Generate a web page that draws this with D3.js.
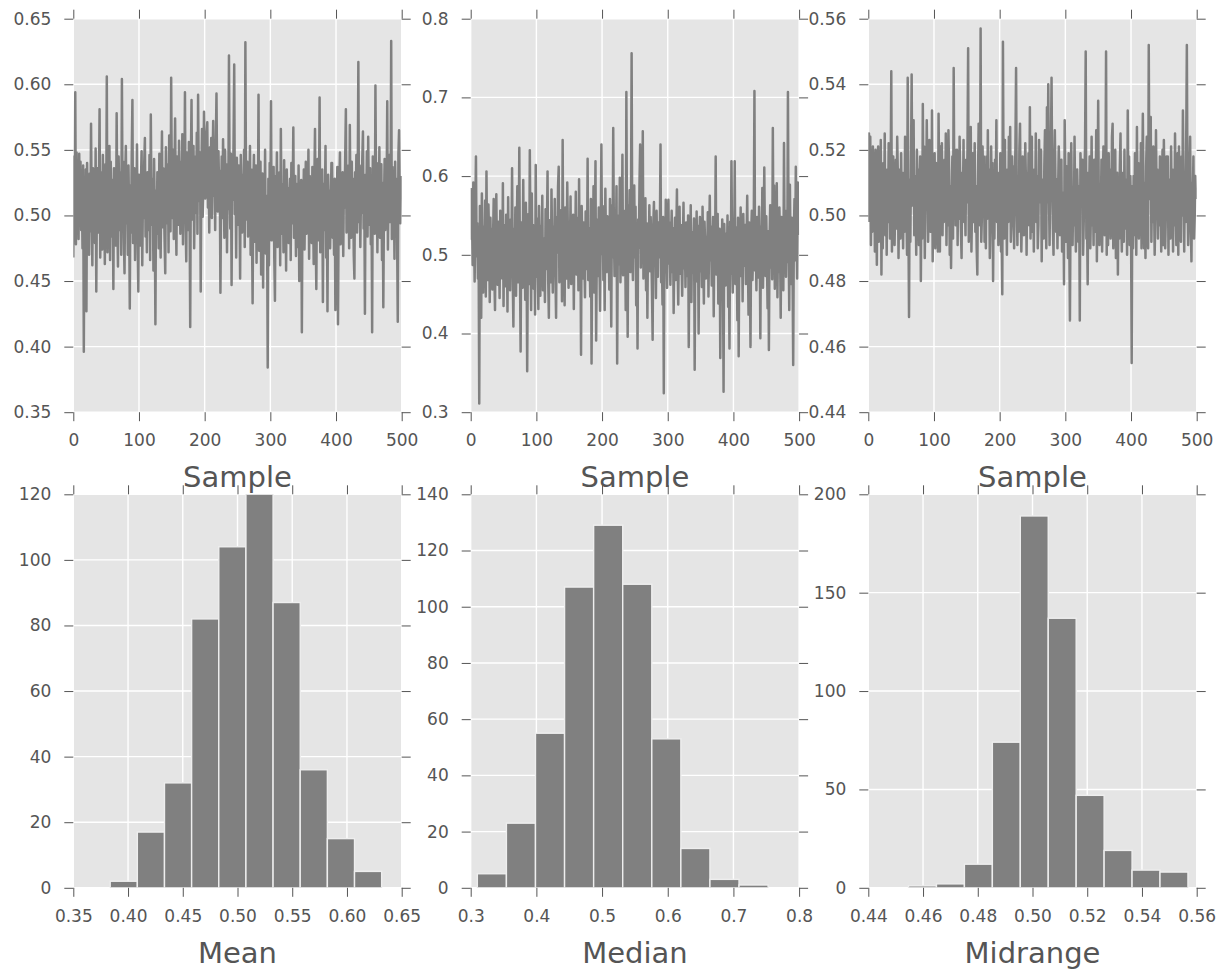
<!DOCTYPE html>
<html><head><meta charset="utf-8">
<script src="https://cdn.jsdelivr.net/npm/d3@7"></script>
<style>body{margin:0;background:#fff}</style>
</head><body>
<svg id="chart" width="1226" height="972"></svg>
<script>
// ---- data ----
const meanSamples=[
.468,.545,.510,.594,.478,.548,.496,.530,.482,.547,.503,.541,.489,.520,.475,.538,.396,.512,.490,.535,.427,.540,.498,.521,.470,
.532,.488,.570,.505,.462,.536,.494,.528,.479,.551,.442,.515,.536,.487,.519,.581,.468,.508,.533,.474,.546,.497,.522,.463,.539,
.490,.606,.472,.529,.505,.553,.466,.541,.512,.484,.527,.444,.536,.498,.519,.477,.578,.502,.461,.545,.516,.489,.533,.470,.604,
.508,.541,.483,.456,.527,.553,.494,.515,.470,.538,.501,.429,.523,.487,.548,.588,.479,.512,.536,.466,.520,.497,.554,.481,.442,
.531,.504,.477,.526,.549,.462,.515,.498,.540,.559,.484,.520,.472,.533,.507,.489,.546,.466,.577,.511,.493,.528,.458,.543,.502,
.417,.519,.486,.533,.528,.475,.547,.500,.468,.522,.564,.491,.536,.509,.481,.456,.552,.517,.494,.539,.472,.561,.507,.488,.605,
.523,.498,.550,.482,.531,.574,.509,.470,.545,.519,.493,.557,.528,.486,.541,.504,.562,.478,.535,.513,.594,.497,.465,.548,.522,
.489,.556,.508,.415,.540,.588,.497,.531,.553,.475,.519,.545,.502,.563,.486,.592,.527,.511,.548,.442,.534,.566,.499,.520,.579,
.548,.513,.530,.561,.571,.506,.544,.487,.552,.525,.559,.498,.537,.572,.515,.541,.489,.556,.593,.527,.503,.549,.520,.534,.441,
.512,.545,.498,.558,.526,.483,.550,.517,.539,.472,.531,.505,.622,.524,.490,.547,.447,.535,.512,.557,.615,.501,.529,.468,.544,
.518,.493,.538,.509,.452,.546,.522,.487,.531,.503,.550,.476,.632,.515,.497,.541,.484,.526,.508,.553,.470,.535,.492,.433,.520,
.546,.480,.511,.538,.464,.527,.499,.592,.473,.518,.541,.455,.509,.532,.445,.524,.488,.550,.471,.515,.497,.384,.528,.462,.540,
.506,.587,.481,.522,.496,.537,.468,.435,.530,.509,.548,.476,.519,.495,.533,.462,.566,.503,.486,.524,.472,.542,.490,.515,.458,
.535,.498,.521,.479,.512,.528,.466,.540,.494,.517,.567,.483,.509,.530,.469,.524,.501,.476,.538,.450,.514,.489,.527,.411,.519,
.493,.535,.474,.512,.541,.486,.522,.505,.550,.467,.530,.495,.518,.479,.537,.508,.463,.526,.566,.488,.444,.520,.543,.481,.510,
.590,.472,.517,.498,.535,.434,.524,.489,.509,.553,.468,.513,.427,.531,.496,.519,.475,.507,.540,.540,.483,.512,.470,.528,.428,
.516,.494,.537,.417,.502,.525,.548,.478,.514,.491,.533,.469,.527,.506,.545,.581,.487,.522,.499,.538,.475,.569,.510,.483,.541,
.497,.528,.470,.452,.533,.509,.546,.487,.521,.617,.495,.538,.476,.515,.502,.543,.564,.490,.522,.425,.531,.507,.549,.484,.560,
.512,.493,.536,.478,.520,.411,.545,.501,.527,.486,.599,.518,.540,.472,.531,.497,.552,.483,.514,.539,.466,.525,.430,.508,.543,
.489,.532,.515,.587,.474,.521,.546,.495,.510,.633,.482,.537,.503,.524,.467,.541,.498,.528,.485,.419,.547,.565,.511,.494,.530];

const medianSamples=[
.585,.520,.548,.487,.592,.531,.466,.553,.625,.498,.540,.470,.515,.311,.562,.491,.420,.578,.509,.452,.536,.481,.569,.447,.606,
.503,.468,.564,.521,.440,.547,.492,.533,.456,.518,.571,.474,.430,.529,.577,.496,.462,.542,.505,.445,.556,.487,.523,.470,.591,
.435,.538,.497,.460,.551,.516,.428,.573,.484,.526,.455,.545,.502,.610,.471,.409,.533,.490,.560,.448,.519,.587,.465,.507,.636,
.479,.377,.541,.502,.458,.595,.486,.527,.443,.566,.510,.352,.498,.552,.463,.633,.520,.430,.578,.485,.538,.457,.509,.424,.614,
.472,.546,.495,.431,.562,.513,.448,.537,.489,.575,.455,.521,.503,.440,.558,.482,.527,.606,.468,.420,.544,.497,.465,.583,.510,
.452,.536,.489,.571,.476,.420,.548,.503,.587,.612,.465,.529,.494,.557,.441,.646,.483,.518,.436,.560,.507,.470,.592,.525,.458,
.539,.495,.574,.463,.520,.486,.551,.431,.533,.502,.580,.475,.514,.547,.455,.596,.489,.526,.373,.562,.508,.470,.541,.498,.446,
.555,.517,.482,.622,.468,.534,.499,.447,.571,.362,.513,.486,.587,.452,.527,.619,.391,.506,.545,.473,.560,.494,.429,.536,.640,
.501,.562,.468,.525,.430,.584,.512,.478,.549,.495,.538,.456,.571,.519,.409,.563,.497,.661,.530,.473,.548,.506,.587,.362,.521,
.550,.488,.598,.465,.535,.512,.627,.474,.556,.495,.541,.430,.707,.520,.396,.563,.503,.582,.478,.547,.756,.512,.468,.539,.588,
.497,.561,.436,.528,.381,.545,.509,.592,.640,.484,.551,.517,.657,.470,.533,.498,.572,.455,.540,.420,.526,.494,.563,.479,.548,
.507,.454,.392,.538,.567,.486,.520,.445,.556,.503,.472,.541,.497,.531,.640,.465,.512,.437,.548,.324,.529,.481,.570,.503,.458,
.525,.570,.489,.541,.462,.515,.556,.478,.534,.426,.502,.547,.468,.523,.583,.490,.437,.519,.561,.476,.538,.495,.448,.512,.566,
.483,.527,.459,.541,.502,.473,.550,.383,.518,.494,.563,.440,.529,.477,.508,.546,.354,.521,.490,.555,.466,.537,.400,.512,.548,
.479,.528,.459,.561,.497,.438,.542,.512,.470,.523,.486,.554,.447,.519,.575,.493,.536,.461,.506,.548,.422,.527,.490,.625,.475,
.514,.552,.438,.498,.533,.369,.518,.471,.545,.493,.326,.539,.505,.461,.527,.482,.550,.434,.509,.381,.542,.476,.619,.501,.452,
.528,.489,.619,.463,.535,.510,.417,.547,.371,.520,.494,.560,.473,.531,.441,.552,.506,.486,.538,.463,.517,.575,.497,.424,.541,
.489,.383,.527,.556,.468,.505,.540,.708,.480,.523,.455,.548,.502,.471,.561,.515,.394,.536,.492,.585,.458,.527,.611,.506,.473,
.549,.497,.432,.530,.379,.518,.563,.484,.540,.469,.661,.502,.588,.457,.526,.495,.591,.446,.534,.478,.560,.509,.420,.548,.491,
.527,.455,.642,.503,.538,.472,.556,.491,.707,.518,.430,.589,.502,.463,.547,.484,.360,.529,.571,.493,.612,.538,.470,.592,.525];

const midrangeSamples=[
.498,.525,.509,.524,.491,.517,.495,.521,.506,.519,.489,.520,.508,.485,.515,.521,.492,.511,.497,.523,.482,.513,.490,.516,.500,
.525,.494,.510,.488,.514,.498,.522,.519,.493,.511,.544,.489,.506,.518,.500,.491,.504,.517,.496,.524,.512,.487,.505,.514,.493,
.519,.499,.513,.490,.510,.495,.524,.516,.502,.488,.542,.500,.469,.511,.492,.515,.543,.503,.527,.529,.494,.512,.506,.488,.520,
.504,.514,.491,.508,.518,.480,.507,.493,.534,.505,.521,.487,.509,.503,.529,.511,.492,.506,.523,.501,.495,.497,.532,.486,.512,
.499,.519,.490,.516,.495,.508,.489,.531,.507,.489,.521,.500,.522,.494,.511,.498,.517,.504,.525,.491,.510,.497,.526,.514,.488,
.509,.484,.506,.518,.493,.545,.505,.520,.497,.508,.520,.491,.514,.499,.524,.510,.496,.487,.513,.502,.523,.498,.506,.494,.517,
.504,.520,.551,.492,.514,.506,.527,.489,.503,.519,.498,.507,.522,.495,.509,.490,.482,.511,.528,.508,.497,.557,.492,.500,.521,
.503,.518,.492,.512,.490,.518,.499,.526,.502,.514,.487,.497,.521,.504,.516,.480,.511,.493,.517,.506,.529,.498,.513,.491,.508,
.500,.519,.489,.496,.476,.553,.507,.493,.523,.499,.509,.488,.514,.498,.524,.506,.527,.492,.497,.518,.505,.515,.490,.508,.521,
.545,.506,.491,.512,.495,.520,.528,.504,.489,.500,.518,.514,.494,.507,.522,.510,.488,.513,.501,.519,.497,.533,.493,.512,.524,
.495,.510,.489,.514,.501,.525,.498,.512,.490,.497,.523,.504,.509,.520,.486,.511,.506,.493,.515,.526,.503,.490,.533,.504,.540,
.508,.491,.512,.519,.542,.510,.497,.488,.514,.526,.509,.495,.511,.490,.508,.521,.513,.494,.502,.517,.489,.507,.503,.479,.529,
.511,.492,.515,.506,.487,.519,.493,.468,.504,.522,.500,.491,.507,.497,.524,.503,.489,.501,.514,.505,.492,.509,.468,.519,.512,
.503,.517,.488,.498,.511,.521,.550,.493,.500,.479,.513,.504,.518,.490,.502,.524,.497,.506,.491,.517,.508,.495,.526,.486,.506,
.535,.502,.491,.507,.499,.517,.489,.509,.521,.512,.494,.507,.550,.488,.511,.491,.519,.502,.514,.493,.500,.524,.528,.490,.509,
.501,.520,.487,.498,.513,.482,.508,.493,.515,.525,.499,.489,.505,.513,.492,.520,.496,.507,.511,.488,.532,.500,.518,.491,.512,
.498,.455,.509,.490,.512,.494,.519,.503,.488,.527,.500,.516,.493,.514,.499,.522,.490,.511,.531,.506,.490,.510,.487,.515,.524,
.501,.490,.552,.505,.519,.530,.492,.509,.498,.521,.506,.488,.500,.526,.504,.514,.493,.509,.497,.518,.512,.489,.510,.520,.491,
.523,.506,.490,.500,.518,.504,.518,.488,.511,.507,.493,.521,.503,.514,.489,.509,.497,.525,.505,.491,.501,.519,.488,.521,.507,
.503,.492,.518,.500,.532,.510,.489,.513,.498,.521,.552,.506,.491,.502,.514,.524,.497,.486,.510,.503,.518,.493,.500,.512,.505];

const meanHistCounts=[2,17,32,82,104,120,87,36,15,5];
const medianHistCounts=[5,23,55,107,129,108,53,14,3,1];
const midrangeHistCounts=[1,2,12,74,189,137,47,19,9,8];
const meanHistRange=[0.3837,0.6317];
const medianHistRange=[0.3101,0.7528];
const midrangeHistRange=[0.4547,0.5568];

const sampleTicks=[0,100,200,300,400,500];
const meanTicks=[0.35,0.40,0.45,0.50,0.55,0.60,0.65];
const medianTicks=[0.3,0.4,0.5,0.6,0.7,0.8];
const midrangeTicks=[0.44,0.46,0.48,0.50,0.52,0.54,0.56];
const meanCountTicks=[0,20,40,60,80,100,120];
const medianCountTicks=[0,20,40,60,80,100,120,140];
const midrangeCountTicks=[0,50,100,150,200];
const xLabelsTop=["Sample","Sample","Sample"];
const xLabelsBottom=["Mean","Median","Midrange"];

// ---- layout ----
const svg=d3.select("#chart");
const colX=[73.3,470.7,868.3], rowY=[18.7,494.3];
const PW=328.4, PH=393.5;
const GRAY="#808080", TXT="#555555";
const FONT="DejaVu Sans, Bitstream Vera Sans, sans-serif";

function histBins(counts,range){
  const w=(range[1]-range[0])/counts.length;
  return counts.map((c,i)=>({x0:range[0]+i*w,x1:range[0]+(i+1)*w,c}));
}

const panels=[
 {col:0,row:0,type:"line",data:meanSamples,xd:[0,500],yd:[0.35,0.65],xt:sampleTicks,yt:meanTicks,xf:d3.format("d"),yf:d3.format(".2f"),label:xLabelsTop[0]},
 {col:1,row:0,type:"line",data:medianSamples,xd:[0,500],yd:[0.3,0.8],xt:sampleTicks,yt:medianTicks,xf:d3.format("d"),yf:d3.format(".1f"),label:xLabelsTop[1]},
 {col:2,row:0,type:"line",data:midrangeSamples,xd:[0,500],yd:[0.44,0.56],xt:sampleTicks,yt:midrangeTicks,xf:d3.format("d"),yf:d3.format(".2f"),label:xLabelsTop[2]},
 {col:0,row:1,type:"hist",data:histBins(meanHistCounts,meanHistRange),xd:[0.35,0.65],yd:[0,120],xt:meanTicks,yt:meanCountTicks,xf:d3.format(".2f"),yf:d3.format("d"),label:xLabelsBottom[0]},
 {col:1,row:1,type:"hist",data:histBins(medianHistCounts,medianHistRange),xd:[0.3,0.8],yd:[0,140],xt:medianTicks,yt:medianCountTicks,xf:d3.format(".1f"),yf:d3.format("d"),label:xLabelsBottom[1]},
 {col:2,row:1,type:"hist",data:histBins(midrangeHistCounts,midrangeHistRange),xd:[0.44,0.56],yd:[0,200],xt:midrangeTicks,yt:midrangeCountTicks,xf:d3.format(".2f"),yf:d3.format("d"),label:xLabelsBottom[2]}
];

panels.forEach((p,k)=>{
  const g=svg.append("g").attr("transform",`translate(${colX[p.col]},${rowY[p.row]})`);
  const x=d3.scaleLinear().domain(p.xd).range([0,PW]);
  const y=d3.scaleLinear().domain(p.yd).range([PH,0]);
  g.append("rect").attr("width",PW).attr("height",PH).attr("fill","#E5E5E5");
  const grid=g.append("g").attr("stroke","#ffffff").attr("stroke-width",1.4);
  grid.selectAll(".gx").data(p.xt).join("line").attr("x1",d=>x(d)).attr("x2",d=>x(d)).attr("y1",0).attr("y2",PH);
  grid.selectAll(".gy").data(p.yt).join("line").attr("y1",d=>y(d)).attr("y2",d=>y(d)).attr("x1",0).attr("x2",PW);
  const clipId="clip"+k;
  g.append("clipPath").attr("id",clipId).append("rect").attr("width",PW).attr("height",PH);
  const dg=g.append("g").attr("clip-path",`url(#${clipId})`);
  if(p.type==="line"){
    const line=d3.line().x((d,i)=>x(i)).y(d=>y(d));
    dg.append("path").datum(p.data).attr("d",line).attr("fill","none").attr("stroke",GRAY).attr("stroke-width",2.5).attr("stroke-linejoin","round");
  } else {
    dg.selectAll("rect.bar").data(p.data).join("rect").attr("class","bar")
      .attr("x",d=>x(d.x0)).attr("width",d=>x(d.x1)-x(d.x0))
      .attr("y",d=>y(d.c)).attr("height",d=>y(0)-y(d.c))
      .attr("fill",GRAY).attr("stroke","#EEEEEE").attr("stroke-width",1.4);
  }
  const style=a=>{a.select(".domain").remove();a.selectAll("line").attr("stroke",TXT).attr("stroke-width",1);
    a.selectAll("text").attr("fill",TXT).attr("font-size",17).attr("font-family",FONT);};
  g.append("g").attr("transform",`translate(0,${PH})`).call(d3.axisBottom(x).tickValues(p.xt).tickFormat(p.xf).tickSize(9).tickPadding(13)).call(style);
  g.append("g").call(d3.axisTop(x).tickValues(p.xt).tickFormat("").tickSize(9)).call(style);
  g.append("g").call(d3.axisLeft(y).tickValues(p.yt).tickFormat(p.yf).tickSize(9).tickPadding(13)).call(style);
  g.append("g").attr("transform",`translate(${PW},0)`).call(d3.axisRight(y).tickValues(p.yt).tickFormat("").tickSize(9)).call(style);
  g.append("text").attr("x",PW/2).attr("y",PH+75).attr("text-anchor","middle")
    .attr("font-size",29).attr("font-family",FONT).attr("fill",TXT).text(p.label);
});
</script>
</body></html>
